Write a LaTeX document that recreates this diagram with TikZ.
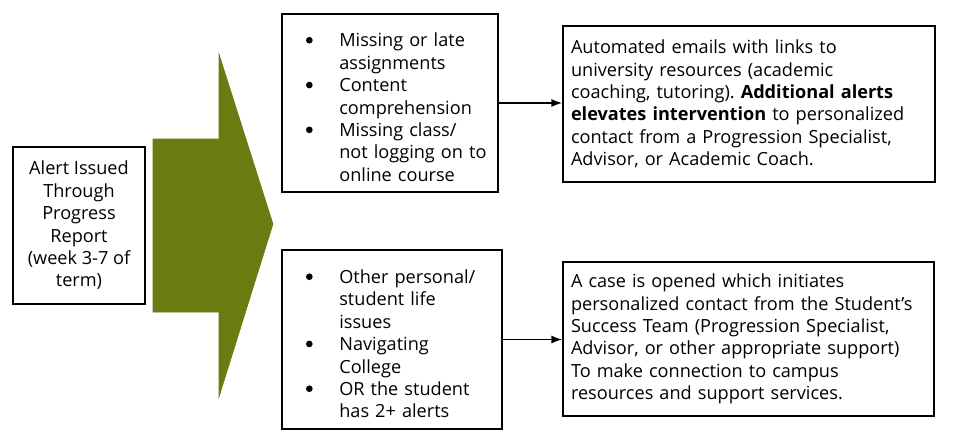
\documentclass[tikz,border=0pt]{standalone}
\usepackage{fontspec}
\setmainfont{Open Sans}
\usepackage{enumitem}
\usepackage{tikz}
\usetikzlibrary{positioning, arrows.meta, calc}

\definecolor{olivebody}{RGB}{106,123,18}
\frenchspacing
\newcommand{\dotmark}{\tikz[baseline=-5pt]\fill (0,0) circle (2.5pt);}
\setlist[itemize]{label=\dotmark, leftmargin=43pt, labelsep=20pt, itemsep=0pt, topsep=0pt, parsep=0pt, partopsep=0pt}

\begin{document}
\begin{tikzpicture}[
    x=0.75pt, y=-0.75pt,
    box/.style={draw, line width=1.4pt, rectangle, fill=white, inner sep=0pt, font=\fontsize{13.6}{16.8}\selectfont},
    conn/.style={-{Latex[length=8pt, width=6pt]}, line width=1.1pt},
    bigarrow/.style={fill=olivebody, draw=olivebody}
]

    \useasboundingbox (0,0) rectangle (960,443);

    % Big arrow
    \fill[bigarrow] (153,139) -- (219,139) -- (219,54) -- (273,224)
        -- (219,397) -- (219,312) -- (153,312) -- cycle;

    % Start box
    \node[box, minimum width=132*0.75pt, minimum height=157*0.75pt, align=center] (alert) at (79,225.5)
        {Alert Issued\\Through\\Progress\\Report\\(week 3-7 of\\term)};

    % Reasons
    \node[box, minimum width=216*0.75pt, minimum height=178*0.75pt, text width=216*0.75pt] (acad) at (390,103) {%
        \begin{itemize}
        \item Missing or late\\assignments
        \item Content\\comprehension
        \item Missing class/\\not logging on to\\online course
        \end{itemize}};
    \node[box, minimum width=220*0.75pt, minimum height=179*0.75pt, text width=220*0.75pt] (life) at (392,339.5) {%
        \begin{itemize}
        \item Other personal/\\student life\\issues
        \item Navigating\\College
        \item OR the student\\has 2+ alerts
        \end{itemize}};

    % Responses
    \node[box, minimum width=372*0.75pt, minimum height=156*0.75pt, text width=356*0.75pt, align=left] (email) at (749,104)
        {Automated emails with links to\\university resources (academic\\coaching, tutoring). \textbf{Additional alerts}\\\textbf{elevates intervention} to personalized\\contact from a Progression Specialist,\\Advisor, or Academic Coach.};
    \node[box, minimum width=371*0.75pt, minimum height=154*0.75pt, text width=355*0.75pt, align=left] (case) at (748.5,339)
        {A case is opened which initiates\\personalized contact from the Student’s\\Success Team (Progression Specialist,\\Advisor, or other appropriate support)\\To make connection to campus\\resources and support services.};

    % Connectors
    \draw[conn] (acad.east) -- (acad.east -| email.west);
    \draw[conn] (life.east) -- (life.east -| case.west);

\end{tikzpicture}
\end{document}
